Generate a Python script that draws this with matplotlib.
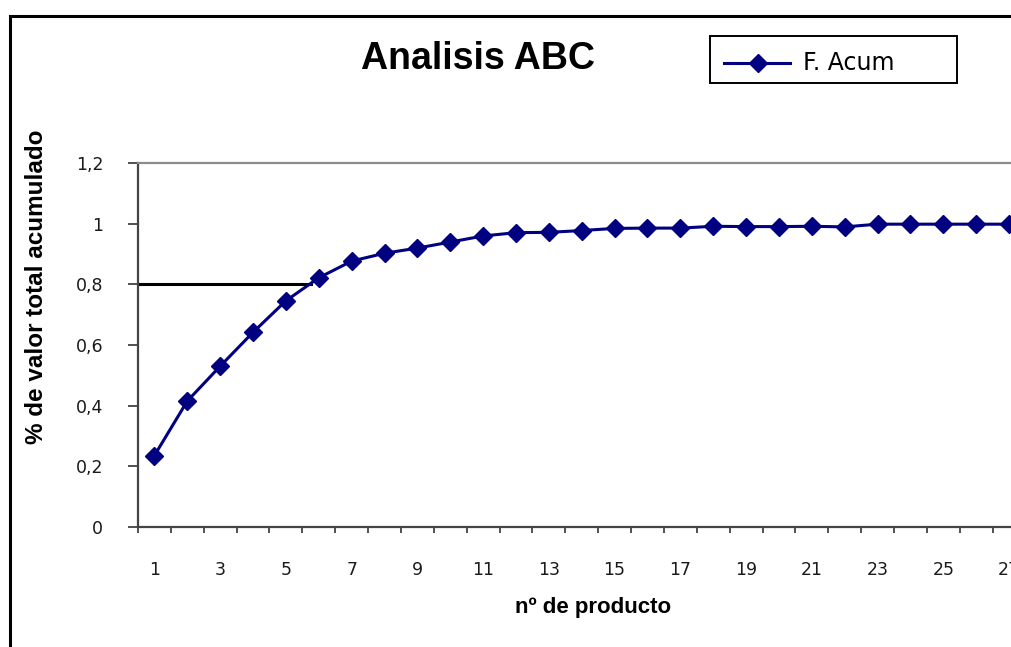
import matplotlib
matplotlib.use("Agg")
import matplotlib.pyplot as plt
from matplotlib.patches import Rectangle
from matplotlib.lines import Line2D
import numpy as np

plt.rcParams['font.family'] = ['Liberation Sans', 'DejaVu Sans']

# ---- data ----
productos = list(range(1, 28))
f_acum = [0.235, 0.415, 0.530, 0.642, 0.746, 0.822, 0.877, 0.903, 0.920, 0.940,
          0.960, 0.971, 0.972, 0.978, 0.985, 0.986, 0.986, 0.992, 0.991, 0.991,
          0.992, 0.990, 0.999, 0.999, 0.999, 0.999, 0.999]
n_categorias = 28
y_ticks = [0, 0.2, 0.4, 0.6, 0.8, 1.0, 1.2]
y_ticklabels = ["0", "0,2", "0,4", "0,6", "0,8", "1", "1,2"]
x_ticks = list(range(1, 28, 2))
x_ticklabels = [str(v) for v in x_ticks]
linea_ref_y = 0.8
linea_ref_xfin = 5.75

W, H = 1012, 647
fig = plt.figure(figsize=(W / 100, H / 100), dpi=100)

cat_w = 32.87
ax_left = 138
ax_top = 163.3
ax_bottom = 526.7
ax = fig.add_axes([ax_left / W, 1 - ax_bottom / H,
                   n_categorias * cat_w / W, (ax_bottom - ax_top) / H])

navy = '#000080'
ax.plot(productos, f_acum, color=navy, lw=2.2, marker='D', markersize=9,
        markerfacecolor=navy, markeredgecolor=navy, zorder=3, clip_on=False)
ax.plot([0.5, linea_ref_xfin], [linea_ref_y, linea_ref_y], color='black', lw=2.2, zorder=2)

ax.set_xlim(0.5, n_categorias + 0.5)
ax.set_ylim(0, 1.2)

tick_font = {'family': 'DejaVu Sans', 'size': 12.5}
ax.set_yticks(y_ticks)
ax.set_yticklabels(y_ticklabels, fontdict=tick_font)
ax.set_xticks(x_ticks)
ax.set_xticklabels(x_ticklabels, fontdict=tick_font)
ax.set_xticks(np.arange(0.5, n_categorias + 1, 1.0), minor=True)
ax.tick_params(axis='x', which='major', length=0, pad=25, colors='#1a1a1a')
ax.tick_params(axis='x', which='minor', length=4.5, width=1.2, direction='out', color='#333333')
ax.tick_params(axis='y', which='major', length=7, width=1.2, direction='out', pad=18,
               color='#333333', labelcolor='#1a1a1a')

for s in ['left', 'bottom']:
    ax.spines[s].set_color('#444444')
    ax.spines[s].set_linewidth(1.6)
ax.spines['top'].set_color('#8c8c8c')
ax.spines['top'].set_linewidth(1.6)
ax.spines['right'].set_visible(False)

# axis titles
ax.set_xlabel('nº de producto', fontsize=16, fontweight='bold')
ax.xaxis.set_label_coords((593.3 - ax_left) / (n_categorias * cat_w), -(608 - ax_bottom) / (ax_bottom - ax_top))
ax.xaxis.label.set_va('center')
fig.text(37 / W, 1 - 286.7 / H, '% de valor total acumulado', rotation=90,
         fontsize=17.5, fontweight='bold', ha='center', va='center')

# title
fig.text(478.3 / W, 1 - 69.3 / H, 'Analisis ABC', fontsize=27, fontweight='bold',
         ha='center', va='baseline')

# chart border
fig.add_artist(Rectangle((10 / W, -0.1), 1.2, (1 - 16 / H) + 0.1, transform=fig.transFigure,
                         fill=False, edgecolor='black', lw=2.2, clip_on=False))

# legend
fig.add_artist(Rectangle((710 / W, 1 - 82.7 / H), (957.3 - 710) / W, (82.7 - 36) / H,
                         transform=fig.transFigure, fill=False, edgecolor='black', lw=1.4))
fig.add_artist(Line2D([724 / W, 790 / W], [1 - 63.3 / H, 1 - 63.3 / H], transform=fig.transFigure,
                      color=navy, lw=2.2))
fig.add_artist(Line2D([757.7 / W], [1 - 63.3 / H], transform=fig.transFigure, color=navy,
                      marker='D', markersize=9, markerfacecolor=navy, markeredgecolor=navy))
fig.text(803 / W, 1 - 70.5 / H, 'F. Acum', fontsize=17, family='DejaVu Sans',
         ha='left', va='baseline')

fig.savefig('out.png', dpi=100)
